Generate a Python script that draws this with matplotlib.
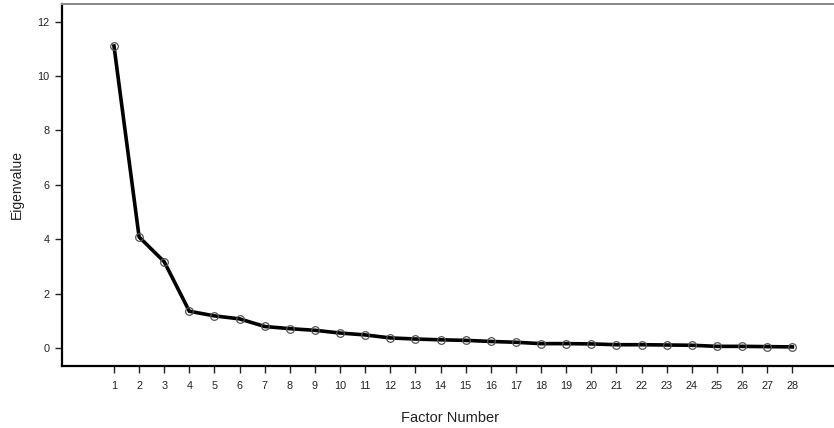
import matplotlib.pyplot as plt
import numpy as np

plt.rcParams['font.family'] = ['Liberation Sans', 'DejaVu Sans']

# eigenvalues
factors = list(range(1, 29))
eigenvalues = [11.10, 4.08, 3.17, 1.35, 1.18, 1.07, 0.79, 0.71, 0.65, 0.55,
               0.48, 0.37, 0.33, 0.30, 0.28, 0.24, 0.21, 0.16, 0.16, 0.15,
               0.12, 0.12, 0.11, 0.10, 0.06, 0.06, 0.05, 0.04]
y_ticks = [0, 2, 4, 6, 8, 10, 12]

fig = plt.figure(figsize=(8.34, 4.28), dpi=100)
ax = fig.add_axes([0.0743, 0.145, 0.93, 0.846])

ax.plot(factors, eigenvalues, color='black', linewidth=2.6,
        marker='o', markersize=5.5, markerfacecolor='none',
        markeredgecolor='#555555', markeredgewidth=0.9)

ax.set_xlim(-1.07, 29.8)
ax.set_ylim(-0.66, 12.65)
ax.set_xticks(factors)
ax.set_xticklabels([str(f) for f in factors])
ax.set_yticks(y_ticks)
ax.tick_params(axis='both', direction='out', length=5, width=1,
               labelsize=7.8, color='#222222', labelcolor='#222222')
ax.tick_params(axis='x', pad=6)
ax.tick_params(axis='y', pad=4)

ax.spines['right'].set_visible(False)
ax.spines['left'].set_linewidth(1.6)
ax.spines['bottom'].set_linewidth(1.6)
ax.spines['top'].set_color('#888888')
ax.spines['top'].set_linewidth(1.4)

ax.set_xlabel('Factor Number', fontsize=10.5, color='#222222', labelpad=14)
ax.set_ylabel('Eigenvalue', fontsize=10, color='#222222', labelpad=10)

fig.savefig('out.png', dpi=100)
